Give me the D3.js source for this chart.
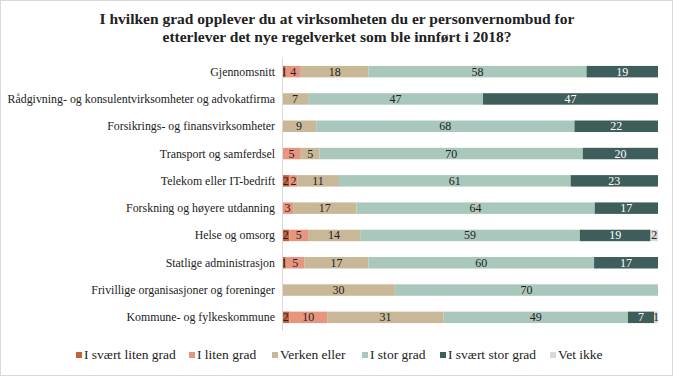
<!DOCTYPE html>
<html lang="no">
<head>
<meta charset="UTF-8">
<title>Personvernombud</title>
<script src="https://d3js.org/d3.v7.min.js"></script>
<style>
  body { margin: 0; background: #fff; }
  svg { display: block; font-family: "Liberation Serif", "DejaVu Serif", serif; }
</style>
</head>
<body>
<svg id="chart" width="673" height="376"></svg>
<script>
// categories (top to bottom)
const categories = [
  "Gjennomsnitt",
  "Rådgivning- og konsulentvirksomheter og advokatfirma",
  "Forsikrings- og finansvirksomheter",
  "Transport og samferdsel",
  "Telekom eller IT-bedrift",
  "Forskning og høyere utdanning",
  "Helse og omsorg",
  "Statlige administrasjon",
  "Frivillige organisasjoner og foreninger",
  "Kommune- og fylkeskommune"
];
const seriesNames = ["I svært liten grad", "I liten grad", "Verken eller", "I stor grad", "I svært stor grad", "Vet ikke"];
const seriesColors = ["#c4623f", "#e8957f", "#c8b898", "#a9c8bb", "#3e5e5b", "#d9d9d9"];
const labelColors = ["#222", "#222", "#222", "#222", "#fff", "#222"];

// values per series, same order as categories
const sværtLiten = [1, 0, 0, 0, 2, 0, 2, 1, 0, 2];
const liten      = [4, 0, 0, 5, 2, 3, 5, 5, 0, 10];
const verken     = [18, 7, 9, 5, 11, 17, 14, 17, 30, 31];
const stor       = [58, 47, 68, 70, 61, 64, 59, 60, 70, 49];
const sværtStor  = [19, 47, 22, 20, 23, 17, 19, 17, 0, 7];
const vetIkke    = [0, 0, 0, 0, 0, 0, 2, 0, 0, 1];
const seriesValues = [sværtLiten, liten, verken, stor, sværtStor, vetIkke];

const svg = d3.select("#chart");
const W = 673, H = 376;

// outer border
svg.append("rect").attr("x", 0.5).attr("y", 0.5).attr("width", W - 1).attr("height", H - 1)
  .attr("fill", "#fff").attr("stroke", "#d9d9d9");

// title
const title = svg.append("text").attr("text-anchor", "middle")
  .attr("font-weight", "bold").attr("font-size", 15.5).attr("fill", "#222");
title.append("tspan").attr("x", 337).attr("y", 24).text("I hvilken grad opplever du at virksomheten du er personvernombud for");
title.append("tspan").attr("x", 337).attr("y", 42).text("etterlever det nye regelverket som ble innført i 2018?");

const x0 = 282, x1 = 658;
const y = d3.scaleBand().domain(categories).range([58, 331]).paddingInner(0.58).paddingOuter(0.29);

// build stacked rows, normalised to 100%
const rows = categories.map((c, i) => {
  const vals = seriesValues.map(s => s[i]);
  const total = d3.sum(vals);
  let acc = 0;
  return vals.map((v, k) => {
    const seg = { cat: c, k, v, start: acc / total, end: (acc + v) / total };
    acc += v;
    return seg;
  });
});
const x = d3.scaleLinear().domain([0, 1]).range([x0, x1]);

const g = svg.append("g");
rows.forEach(row => {
  row.filter(d => d.v > 0).forEach(d => {
    g.append("rect")
      .attr("x", x(d.start)).attr("y", y(d.cat))
      .attr("width", x(d.end) - x(d.start)).attr("height", y.bandwidth())
      .attr("fill", seriesColors[d.k]);
    g.append("text")
      .attr("x", (x(d.start) + x(d.end)) / 2)
      .attr("y", y(d.cat) + y.bandwidth() / 2 + 4)
      .attr("text-anchor", "middle").attr("font-size", 12)
      .attr("fill", labelColors[d.k]).text(d.v);
  });
});

// vertical axis line
svg.append("line").attr("x1", x0 + 0.5).attr("x2", x0 + 0.5).attr("y1", 58).attr("y2", 331)
  .attr("stroke", "#d9d9d9");

// category labels
svg.append("g").selectAll("text").data(categories).join("text")
  .attr("x", 275).attr("y", d => y(d) + y.bandwidth() / 2 + 4)
  .attr("text-anchor", "end").attr("font-size", 11.9).attr("fill", "#222")
  .text(d => d);

// legend
const legendX = [76, 189, 272, 362, 440, 550];
const leg = svg.append("g").selectAll("g").data(seriesNames).join("g")
  .attr("transform", (d, i) => `translate(${legendX[i]},359)`);
leg.append("rect").attr("x", 0).attr("y", -7).attr("width", 6).attr("height", 6)
  .attr("fill", (d, i) => seriesColors[i]);
leg.append("text").attr("x", 8).attr("y", 0).attr("font-size", 13.5).attr("fill", "#222").text(d => d);
</script>
</body>
</html>
